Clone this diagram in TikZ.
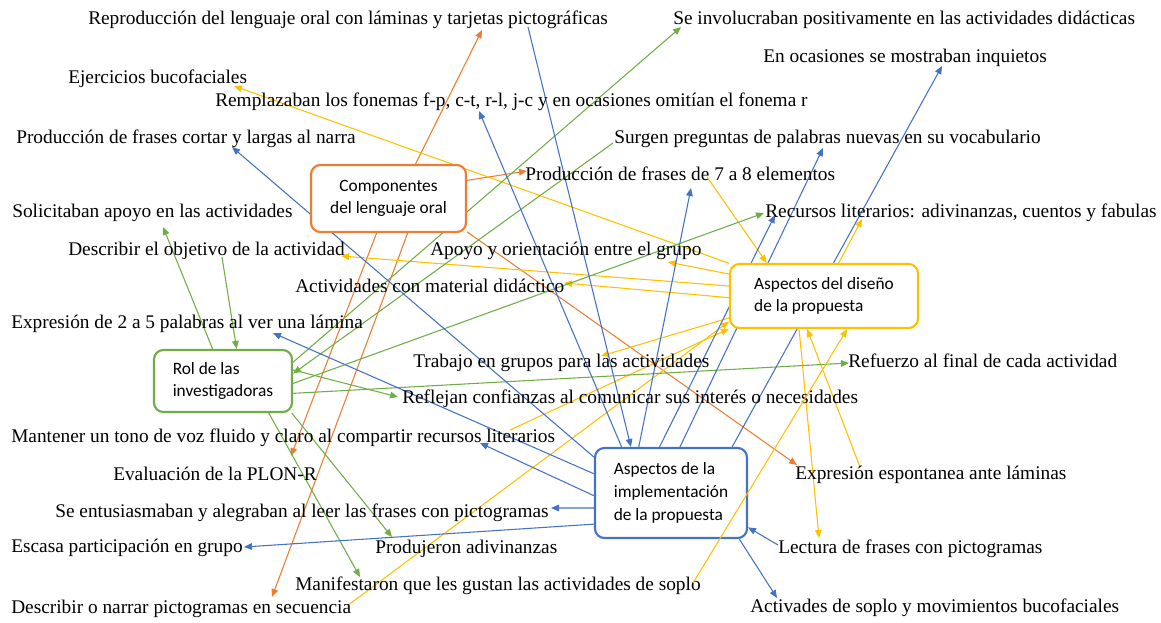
\documentclass[tikz,border=0pt]{standalone}
\usepackage{fontspec}
\setmainfont{Liberation Serif}
\newfontfamily\boxfont{Carlito}
\usetikzlibrary{arrows.meta, backgrounds}
\definecolor{diagorange}{RGB}{237,125,49}
\definecolor{diagblue}{RGB}{68,114,196}
\definecolor{diaggreen}{RGB}{112,173,71}
\definecolor{diaggold}{RGB}{255,192,0}

\begin{document}
\begin{tikzpicture}[x=0.75pt, y=-0.75pt,
    box/.style={draw, line width=1.6pt, rounded corners=7pt, fill=white, inner sep=0pt,
      align=left, font=\boxfont\fontsize{13}{17}\selectfont},
    lbl/.style={anchor=base west, inner sep=0pt, font=\fontsize{14.5}{17}\selectfont},
    link/.style={line width=0.8pt, -{Triangle[length=6pt,width=5pt]}}]
    \useasboundingbox (0,0) rectangle (1161,622);

    % Boxes
    \node[box, draw=diagorange, align=center, minimum width=116.25pt, minimum height=50.25pt]
      (comp) at (388.5,198.5) {Componentes\\del lenguaje oral};
    \node[box, draw=diaggold, minimum width=141pt, minimum height=48pt]
      (dis) at (824,296) {Aspectos del diseño\\de la propuesta};
    \node[box, draw=diaggreen, minimum width=103.5pt, minimum height=46.5pt]
      (rol) at (223,381) {Rol de las\\investigadoras};
    \node[box, draw=diagblue, minimum width=114pt, minimum height=67.5pt]
      (impl) at (671,493) {Aspectos de la\\implementación\\de la propuesta};

    % Labels
    \node[lbl] (repro) at (88,24) {Reproducción del lenguaje oral con láminas y tarjetas pictográficas};
    \node[lbl] (involuc) at (673,24) {Se involucraban positivamente en las actividades didácticas};
    \node[lbl] (inquietos) at (763,62) {En ocasiones se mostraban inquietos};
    \node[lbl] (bucofac) at (68,83) {Ejercicios bucofaciales};
    \node[lbl] (fonemas) at (215,106) {Remplazaban los fonemas f-p, c-t, r-l, j-c y en ocasiones omitían el fonema r};
    \node[lbl] (cortas) at (16,143) {Producción de frases cortar y largas al narra};
    \node[lbl] (surgen) at (614,143) {Surgen preguntas de palabras nuevas en su vocabulario};
    \node[lbl] (siete) at (525,180) {Producción de frases de 7 a 8 elementos};
    \node[lbl] (solicit) at (12,217) {Solicitaban apoyo en las actividades};
    \node[lbl] (recursos) at (765,217) {Recursos literarios: adivinanzas, cuentos y fabulas};
    \node[lbl] (objetivo) at (68,255) {Describir el objetivo de la actividad};
    \node[lbl] (apoyo) at (430,255) {Apoyo y orientación entre el grupo};
    \node[lbl] (material) at (295,292) {Actividades con material didáctico};
    \node[lbl] (dosacinco) at (11,328) {Expresión de 2 a 5 palabras al ver una lámina};
    \node[lbl] (trabajo) at (413,367) {Trabajo en grupos para las actividades};
    \node[lbl] (refuerzo) at (848,367) {Refuerzo al final de cada actividad};
    \node[lbl] (reflejan) at (402,403) {Reflejan confianzas al comunicar sus interés o necesidades};
    \node[lbl] (tono) at (11,442) {Mantener un tono de voz fluido y claro al compartir recursos literarios};
    \node[lbl] (espont) at (795,479) {Expresión espontanea ante láminas};
    \node[lbl] (plon) at (113,480) {Evaluación de la PLON-R};
    \node[lbl] (entusiasm) at (55,517) {Se entusiasmaban y alegraban al leer las frases con pictogramas};
    \node[lbl] (escasa) at (11,552) {Escasa participación en grupo};
    \node[lbl] (adivin) at (375,553) {Produjeron adivinanzas};
    \node[lbl] (lectura) at (778,553) {Lectura de frases con pictogramas};
    \node[lbl] (soplo) at (295,590) {Manifestaron que les gustan las actividades de soplo};
    \node[lbl] (narrar) at (11,613) {Describir o narrar pictogramas en secuencia};
    \node[lbl] (bucomov) at (750,612) {Activades de soplo y movimientos bucofaciales};

    % Arrow ends at the labels
    \coordinate (t-repro) at (482,30);
    \coordinate (t-siete) at (527,171);
    \coordinate (t-espont) at (797,465);
    \coordinate (t-plon) at (291,456);
    \coordinate (t-narrar) at (272,597);
    \coordinate (t-bucofac) at (234,86);
    \coordinate (t-apoyo) at (668,262);
    \coordinate (t-objetivo) at (341,256);
    \coordinate (t-material) at (564,283);
    \coordinate (t-trabajo) at (601,356);
    \coordinate (t-recursos) at (862,219);
    \coordinate (t-lectura) at (819,538);
    \coordinate (t-solicit) at (163,227);
    \coordinate (t-involuc) at (681,27);
    \coordinate (t-recursos-g) at (764,213);
    \coordinate (t-refuerzo) at (849,363);
    \coordinate (t-reflejan) at (398,397);
    \coordinate (t-adivin) at (392,537);
    \coordinate (t-soplo) at (360,577);
    \coordinate (t-fonemas) at (479,111);
    \coordinate (t-siete-b) at (691,188);
    \coordinate (t-recursos-b) at (775,215);
    \coordinate (t-surgen) at (823,148);
    \coordinate (t-inquietos) at (942,66);
    \coordinate (t-cortas) at (232,147);
    \coordinate (t-dosacinco) at (273,333);
    \coordinate (t-tono) at (480,443);
    \coordinate (t-entusiasm) at (551,508);
    \coordinate (t-escasa) at (244,547);
    \coordinate (t-bucomov) at (777,598);
    % Arrow starts at the labels
    \coordinate (s-repro) at (528,27);
    \coordinate (s-siete) at (707,177);
    \coordinate (s-espont) at (860,467);
    \coordinate (s-soplo) at (693,583);
    \coordinate (s-narrar) at (347,606);
    \coordinate (s-tono) at (510,430);
    \coordinate (s-objetivo) at (222,257);
    \coordinate (s-surgen) at (613,143);
    \coordinate (s-lectura) at (778,545);

    % this one runs over the implementation box
    \draw[link, diaggold] (s-soplo) -- (dis.-55);

    \begin{scope}[on background layer]
    % Componentes del lenguaje oral
    \draw[link, diagorange] (comp.52) -- (t-repro);
    \draw[link, diagorange] (comp.13) -- (t-siete);
    \draw[link, diagorange] (comp.-23) -- (t-espont);
    \draw[link, diagorange] (comp.-109) -- (t-plon);
    \draw[link, diagorange] (comp.-61) -- (t-narrar);

    % Aspectos del diseno
    \draw[link, diaggold] (dis.161) -- (t-bucofac);
    \draw[link, diaggold] (dis.167) -- (t-apoyo);
    \draw[link, diaggold] (dis.174) -- (t-objetivo);
    \draw[link, diaggold] (dis.181) -- (t-material);
    \draw[link, diaggold] (dis.193) -- (t-trabajo);
    \draw[link, diaggold] (dis.66) -- (t-recursos);
    \draw[link, diaggold] (dis.-127) -- (t-lectura);
    \draw[link, diaggold] (s-siete) -- (dis.150);
    \draw[link, diaggold] (s-espont) -- (dis.-117);
    \draw[link, diaggold] (s-narrar) -- (dis.195);
    \draw[link, diaggold] (s-tono) -- (dis.199);

    % Rol de las investigadoras
    \draw[link, diaggreen] (rol.108) -- (t-solicit);
    \draw[link, diaggreen] (s-objetivo) -- (rol.67);
    \draw[link, diaggreen] (rol.15) -- (t-involuc);
    \draw[link, diaggreen] (s-surgen) -- (rol.6);
    \draw[link, diaggreen] (rol.-2) -- (t-recursos-g);
    \draw[link, diaggreen] (rol.-10) -- (t-refuerzo);
    \draw[link, diaggreen] (rol.9) -- (t-reflejan);
    \draw[link, diaggreen] (rol.-25) -- (t-adivin);
    \draw[link, diaggreen] (rol.-35) -- (t-soplo);

    % Aspectos de la implementacion
    \draw[link, diagblue] (s-repro) -- (impl.131);
    \draw[link, diagblue] (impl.137) -- (t-fonemas);
    \draw[link, diagblue] (impl.125) -- (t-siete-b);
    \draw[link, diagblue] (impl.104) -- (t-recursos-b);
    \draw[link, diagblue] (impl.79) -- (t-surgen);
    \draw[link, diagblue] (impl.37) -- (t-inquietos);
    \draw[link, diagblue] (impl.155) -- (t-cortas);
    \draw[link, diagblue] (impl.166) -- (t-dosacinco);
    \draw[link, diagblue] (impl.182) -- (t-tono);
    \draw[link, diagblue] (impl.191) -- (t-entusiasm);
    \draw[link, diagblue] (impl.202) -- (t-escasa);
    \draw[link, diagblue] (impl.-34) -- (t-bucomov);
    \draw[link, diagblue] (s-lectura) -- (impl.-24);
    \end{scope}
\end{tikzpicture}
\end{document}
